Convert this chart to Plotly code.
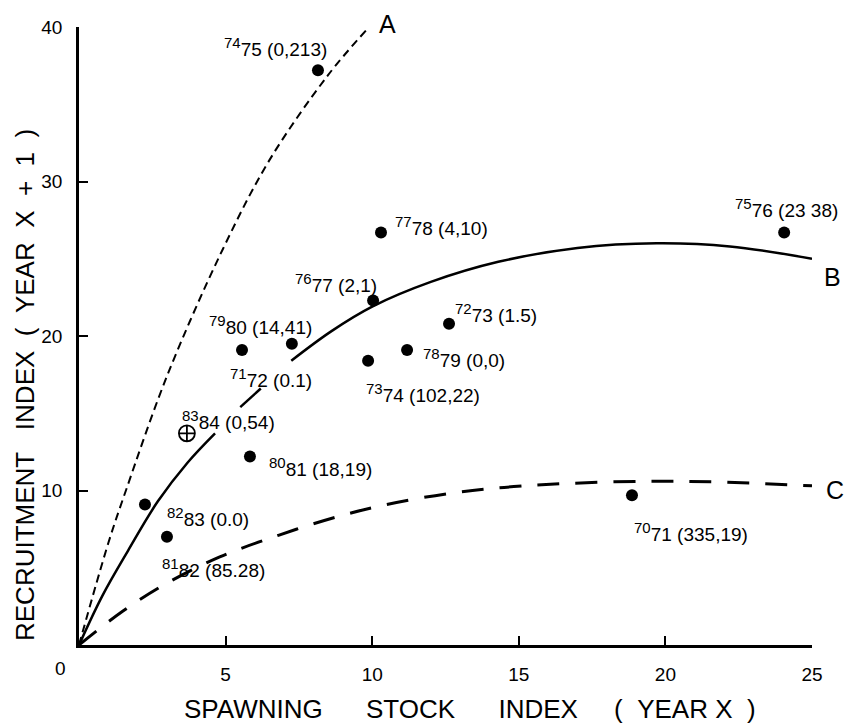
import plotly.graph_objects as go

# ---------------- data ----------------
pt_first = ["74", "77", "75", "76", "72", "78", "73", "79", "71", "80", "82", "81", "70"]
pt_second = ["75", "78", "76", "77", "73", "79", "74", "80", "72", "81", "83", "82", "71"]
pt_note = ["(0,213)", "(4,10)", "(23 38)", "(2,1)", "(1.5)", "(0,0)", "(102,22)",
           "(14,41)", "(0.1)", "(18,19)", "(0.0)", "(85.28)", "(335,19)"]
pt_S = [8.15, 10.3, 24.05, 10.03, 12.62, 11.19, 9.86, 5.56, 7.26, 5.83, 2.25, 3.0, 18.86]
pt_R = [37.2, 26.7, 26.7, 22.3, 20.8, 19.1, 18.4, 19.1, 19.5, 12.2, 9.1, 7.0, 9.7]

# 1983-84 point (open crosshair symbol)
x83_S = [3.68]
x83_R = [13.7]
x83_label = ("83", "84", "(0,54)")

# curve A (short dashes)
A_S = [0, 1.0, 1.6, 3.0, 4.9, 6.5, 8.5, 9.8]
A_R = [0, 6.6, 10.0, 17.4, 25.6, 31.4, 36.9, 39.8]

# curve B (solid, broken around labels)
B_S = [0, 0.8, 1.67, 2.69, 3.7, 4.64, None, 5.5, 6.2, None, 7.24, 8.6, 10.0, 12.0, 14.3, 17.0, 19.7, 22.2, 25.0]
B_R = [0, 3.2, 6.1, 9.3, 11.8, 13.7, None, 15.4, 16.6, None, 18.4, 20.3, 21.9, 23.5, 24.8, 25.7, 26.0, 25.8, 25.0]

# curve C (long dashes)
C_S = [0, 1.5, 3.0, 4.8, 6.8, 8.8, 10.5, 12.6, 14.5, 16.6, 19.4, 21.8, 25.0]
C_R = [0, 2.2, 4.0, 5.7, 7.1, 8.3, 9.1, 9.8, 10.2, 10.45, 10.6, 10.55, 10.3]

x_ticks = [5, 10, 15, 20, 25]
y_ticks = [10, 20, 30, 40]

# ---------------- style ----------------
FONT = "Liberation Sans, Arial, sans-serif"
# label offsets in pixels (left edge of label, vertical centre) relative to each dot
lab_dx = [-96, 12, -51, -80, 4, 14, -4, -35, -64, 17, 20, -7, 0]
lab_dy = [23, 6, 24, 17, 11, -8, -32, 25, -34, -10, -13, -31, -37]


def lab(first, rest):
    return f"<sup><span style='font-size:15px'>{first}</span></sup>{rest}"


fig = go.Figure()

fig.add_trace(go.Scatter(x=A_S, y=A_R, mode="lines", line_shape="spline",
                         line=dict(color="black", width=2, dash="8px,5px"),
                         hoverinfo="skip", showlegend=False))
fig.add_trace(go.Scatter(x=B_S, y=B_R, mode="lines", line_shape="spline", connectgaps=False,
                         line=dict(color="black", width=2.5),
                         hoverinfo="skip", showlegend=False))
fig.add_trace(go.Scatter(x=C_S, y=C_R, mode="lines", line_shape="spline",
                         line=dict(color="black", width=3, dash="22px,16px"),
                         hoverinfo="skip", showlegend=False))
fig.add_trace(go.Scatter(x=pt_S, y=pt_R, mode="markers",
                         marker=dict(color="black", size=12),
                         showlegend=False, cliponaxis=False))
fig.add_trace(go.Scatter(x=x83_S, y=x83_R, mode="markers",
                         marker=dict(color="black", size=16, symbol="circle-cross-open",
                                     line=dict(width=1.8, color="black")),
                         showlegend=False, cliponaxis=False))

ann = []
for f, s, n, x, y, dx, dy in zip(pt_first, pt_second, pt_note, pt_S, pt_R, lab_dx, lab_dy):
    ann.append(dict(x=x, y=y, xref="x", yref="y", showarrow=False,
                    text=lab(f, f"{s} {n}"), xanchor="left", yanchor="middle",
                    xshift=dx, yshift=dy, font=dict(family=FONT, size=19, color="black")))
ann.append(dict(x=x83_S[0], y=x83_R[0], xref="x", yref="y", showarrow=False,
                text=lab(x83_label[0], f"{x83_label[1]} {x83_label[2]}"),
                xanchor="left", yanchor="middle", xshift=-7, yshift=13,
                font=dict(family=FONT, size=19, color="black")))

# curve letters
ann.append(dict(x=A_S[-1], y=A_R[-1], xref="x", yref="y", showarrow=False, text="A",
                xanchor="center", yanchor="middle", xshift=21, yshift=6,
                font=dict(family=FONT, size=25, color="black")))
ann.append(dict(x=B_S[-1], y=B_R[-1], xref="x", yref="y", showarrow=False, text="B",
                xanchor="center", yanchor="middle", xshift=20, yshift=-18,
                font=dict(family=FONT, size=25, color="black")))
ann.append(dict(x=C_S[-1], y=C_R[-1], xref="x", yref="y", showarrow=False, text="C",
                xanchor="center", yanchor="middle", xshift=23, yshift=-4,
                font=dict(family=FONT, size=25, color="black")))

# origin label and axis titles
NB = "\u00a0"
ann.append(dict(x=0, y=0, xref="x", yref="y", showarrow=False, text="0",
                xanchor="center", yanchor="middle", xshift=-19, yshift=-23,
                font=dict(family=FONT, size=19, color="black")))
ann.append(dict(x=0.5334, y=0, xref="paper", yref="paper", showarrow=False,
                text=f"SPAWNING{NB*6}STOCK{NB*6}INDEX{NB*5}({NB*2}YEAR X{NB*2})",
                xanchor="center", yanchor="middle", yshift=-64,
                font=dict(family=FONT, size=26, color="black")))
ann.append(dict(x=0, y=0.4207, xref="paper", yref="paper", showarrow=False,
                text=f"RECRUITMENT{NB*3}INDEX{NB*2}({NB*2}YEAR{NB*2}X{NB*2}+{NB*2}1{NB*2})",
                textangle=-90, xanchor="center", yanchor="middle", xshift=-54,
                font=dict(family=FONT, size=26, color="black")))

fig.update_layout(
    width=846, height=726,
    margin=dict(l=79, r=34, t=27, b=81),
    paper_bgcolor="white", plot_bgcolor="white",
    annotations=ann,
    xaxis=dict(range=[0, 25], tickvals=x_ticks, ticktext=[str(v) for v in x_ticks],
               showgrid=False, zeroline=False, showline=True, linecolor="black", linewidth=2.5,
               ticks="inside", ticklen=9, tickwidth=2, tickcolor="black",
               ticklabelstandoff=10,
               tickfont=dict(family=FONT, size=19, color="black")),
    yaxis=dict(range=[0, 40], tickvals=y_ticks, ticktext=[str(v) for v in y_ticks],
               showgrid=False, zeroline=False, showline=True, linecolor="black", linewidth=2.5,
               ticks="inside", ticklen=9, tickwidth=2, tickcolor="black",
               ticklabelstandoff=10,
               tickfont=dict(family=FONT, size=19, color="black")),
)

fig.write_html("out.html", config={"displayModeBar": False},
               post_script="document.body.style.margin='0px';")
